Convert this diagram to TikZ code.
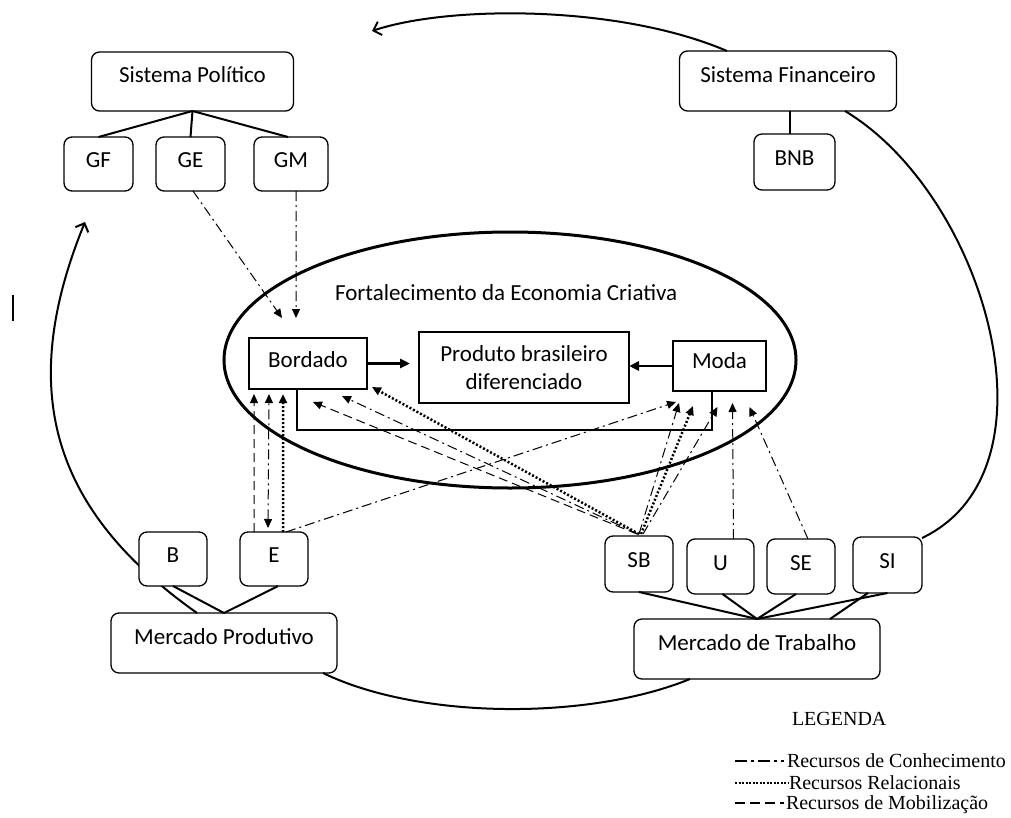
\documentclass[tikz,border=0pt]{standalone}
\usepackage{fontspec}
\setmainfont{Carlito}
\newfontfamily\legfont{Liberation Serif}
\usetikzlibrary{arrows.meta,calc}
\begin{document}
\begin{tikzpicture}[x=1bp,y=-1bp,
  every node/.style={inner sep=0pt,outer sep=0pt},
  lbl/.style={font=\fontsize{23bp}{28bp}\selectfont},
  rbox/.style={draw,line width=1.3bp,rounded corners=8bp,fill=white,lbl},
  bigbox/.style={rbox,text height=16bp,text depth=13bp},
  smallbox/.style={rbox,text height=16bp,text depth=9bp},
  sqbox/.style={draw,line width=1.3bp,fill=white,lbl},
  tie/.style={line width=2bp},
  arc/.style={line width=2bp,-{Straight Barb[length=7bp,width=14bp,line width=2bp]}},
  ka/.style={-{Triangle[length=9bp,width=8bp]}},
  kb/.style={{Triangle[length=9bp,width=8bp]}-{Triangle[length=9bp,width=8bp]}},
  dd/.style={line width=1bp,dash pattern=on 10bp off 4bp on 2bp off 4bp},
  ds/.style={line width=1bp,dash pattern=on 9bp off 5bp},
  dt/.style={line width=2.5bp,dash pattern=on 2bp off 2bp},
  leg/.style={font=\legfont\fontsize{20bp}{24bp}\selectfont,anchor=base west},
]
\useasboundingbox (0,0) rectangle (1011,818);

% boxes
\node[bigbox,minimum width=202bp,minimum height=59bp] (SP) at (192.5,81.5) {Sistema Político};
\node[bigbox,minimum width=217bp,minimum height=60bp] (SF) at (788,81) {Sistema Financeiro};
\node[smallbox,minimum width=69bp,minimum height=54bp] (GF) at (98.5,164) {GF};
\node[smallbox,minimum width=69bp,minimum height=54bp] (GE) at (190.5,164) {GE};
\node[smallbox,minimum width=74bp,minimum height=54bp] (GM) at (291,164) {GM};
\node[smallbox,minimum width=81bp,minimum height=56bp] (BNB) at (794.5,162) {BNB};
\node[bigbox,minimum width=226bp,minimum height=60bp] (MP) at (224,643) {Mercado Produtivo};
\node[bigbox,minimum width=246bp,minimum height=60bp] (MT) at (757,649) {Mercado de Trabalho};

% big arcs (behind boxes)
\coordinate (arrL) at (85,222);
\coordinate (arrT) at (372,31);
\draw[arc] ([xshift=-27bp]MP.north) .. controls (50,509) and (17,389) .. (arrL);
\draw[arc] ([xshift=-61bp]SF.north) .. controls (620,5) and (450,5) .. (arrT);
\draw[line width=2bp] ([xshift=57bp]SF.south) .. controls (985,195) and (1065,470) .. (922,538);
\draw[line width=2bp] ([xshift=99bp]MP.south) .. controls (420,720) and (590,720) .. ([xshift=-67bp]MT.south);

% stray cursor mark
\draw[line width=1.3bp] (13,295) -- (13,321);

% central ellipse
\draw[line width=3bp] (510,360) ellipse [x radius=286bp, y radius=128bp];
\node[lbl,anchor=base west] (FT) at (335,300) {Fortalecimento da Economia Criativa};

\node[smallbox,minimum width=68bp,minimum height=54bp] (B) at (173,559) {B};
\node[smallbox,minimum width=68bp,minimum height=54bp] (E) at (274,559) {E};
\node[smallbox,minimum width=68bp,minimum height=56bp] (SB) at (639,564) {SB};
\node[smallbox,minimum width=67bp,minimum height=55bp] (U) at (720.5,566.5) {U};
\node[smallbox,minimum width=68bp,minimum height=55bp] (SE) at (801,566.5) {SE};
\node[smallbox,minimum width=69bp,minimum height=56bp] (SI) at (887.5,565) {SI};

\node[sqbox,text height=16bp,text depth=9bp,minimum width=118bp,minimum height=51bp] (BO) at (308,363.5) {Bordado};
\node[sqbox,align=center,minimum width=210bp,minimum height=71bp] (PB) at (524,367.5) {Produto brasileiro\\diferenciado};
\node[sqbox,text height=16bp,text depth=11bp,minimum width=93bp,minimum height=50bp] (MO) at (719.5,366) {Moda};

% ties
\draw[tie] (SP.south) -- (GF.north);
\draw[tie] (SP.south) -- (GE.north);
\draw[tie] (SP.south) -- ([xshift=-3bp]GM.north);
\draw[tie] ([xshift=2bp]SF.south) -- ([xshift=2bp]SF.south |- BNB.north);
\draw[tie] (MP.north) -- (B.south);
\draw[tie] (MP.north) -- ([xshift=4bp]E.south);
\draw[tie] (MT.north) -- (SB.south);
\draw[tie] (MT.north) -- ([xshift=2bp]U.south);
\draw[tie] (MT.north) -- ([xshift=-5bp]SE.south);
\draw[tie] (MT.north) -- (SI.south);
\draw[tie] ([xshift=73bp]MT.north) -- ([xshift=-19.5bp]SI.south);

% inner structure
\draw[line width=2.5bp,-{Triangle[length=10bp,width=9bp]},shorten >=9bp] (BO.east) -- (BO.east -| PB.west);
\draw[line width=2.5bp,-{Triangle[length=10bp,width=9bp]}] (MO.west) -- (MO.west -| PB.east);
\draw[line width=2.5bp] ([xshift=-11bp]BO.south) -- ++(0,41) -| ([xshift=-7.5bp]MO.south);

% political system
\draw[dd,ka] ([xshift=2.5bp]GE.south) -- ([xshift=-26bp,yshift=20bp]BO.north);
\draw[dd,ka] ([xshift=5bp]GM.south) -- ([xshift=-12bp,yshift=20bp]BO.north);

% E
\draw[ds,ka] ([xshift=-20bp]E.north) -- ([xshift=-54bp,yshift=-5bp]BO.south);
\draw[dd,kb] ([xshift=-6bp,yshift=4bp]E.north) -- ([xshift=-39bp,yshift=-5bp]BO.south);
\draw[dt,ka] ([xshift=9bp]E.north) -- ([xshift=-25bp,yshift=-5bp]BO.south);
\draw[dd,ka] ([xshift=12bp]E.north) -- ([xshift=3bp,yshift=-11bp]MO.south west);

% SB
\draw[ds,ka] ([xshift=-2bp,yshift=2bp]SB.north) -- ([xshift=5bp,yshift=-13bp]BO.south);
\draw[dd,ka] ([xshift=-1bp,yshift=2bp]SB.north) -- ([xshift=34bp,yshift=-7bp]BO.south);
\draw[dt,ka] ([yshift=2bp]SB.north) -- ([xshift=5bp,yshift=2bp]BO.south east);
\draw[dd,ka] ([yshift=2bp]SB.north) -- ([xshift=6bp,yshift=-12bp]MO.south west);
\draw[dt,ka] ([xshift=2bp,yshift=2bp]SB.north) -- ([xshift=20bp,yshift=-15bp]MO.south west);
\draw[dd,ka] ([xshift=4bp,yshift=2bp]SB.north) -- ([xshift=-2bp,yshift=-16bp]MO.south);

% U, SE
\draw[dd,ka] ([xshift=13bp]U.north) -- ([xshift=13bp,yshift=-12bp]MO.south);
\draw[dd,ka] ([xshift=7bp]SE.north) -- ([xshift=30bp,yshift=-16bp]MO.south);

% legend
\node[leg] (LG) at (792,725) {LEGENDA};
\node[leg] (L1) at (787,767) {Recursos de Conhecimento};
\node[leg] (L2) at (789,789) {Recursos Relacionais};
\node[leg] (L3) at (786,809) {Recursos de Mobilização};
\coordinate (l1a) at (735,761);
\coordinate (l2a) at (735,783);
\coordinate (l3a) at (735,803);
\draw[line width=2bp,dash pattern=on 12bp off 4bp on 3bp off 4bp] (l1a) -- ([xshift=-3bp]L1.west |- l1a);
\draw[line width=2bp,dash pattern=on 2bp off 1.5bp] (l2a) -- ([xshift=-1bp]L2.west |- l2a);
\draw[line width=1.2bp,dash pattern=on 10bp off 5bp] (l3a) -- ([xshift=-2bp]L3.west |- l3a);
\end{tikzpicture}
\end{document}
